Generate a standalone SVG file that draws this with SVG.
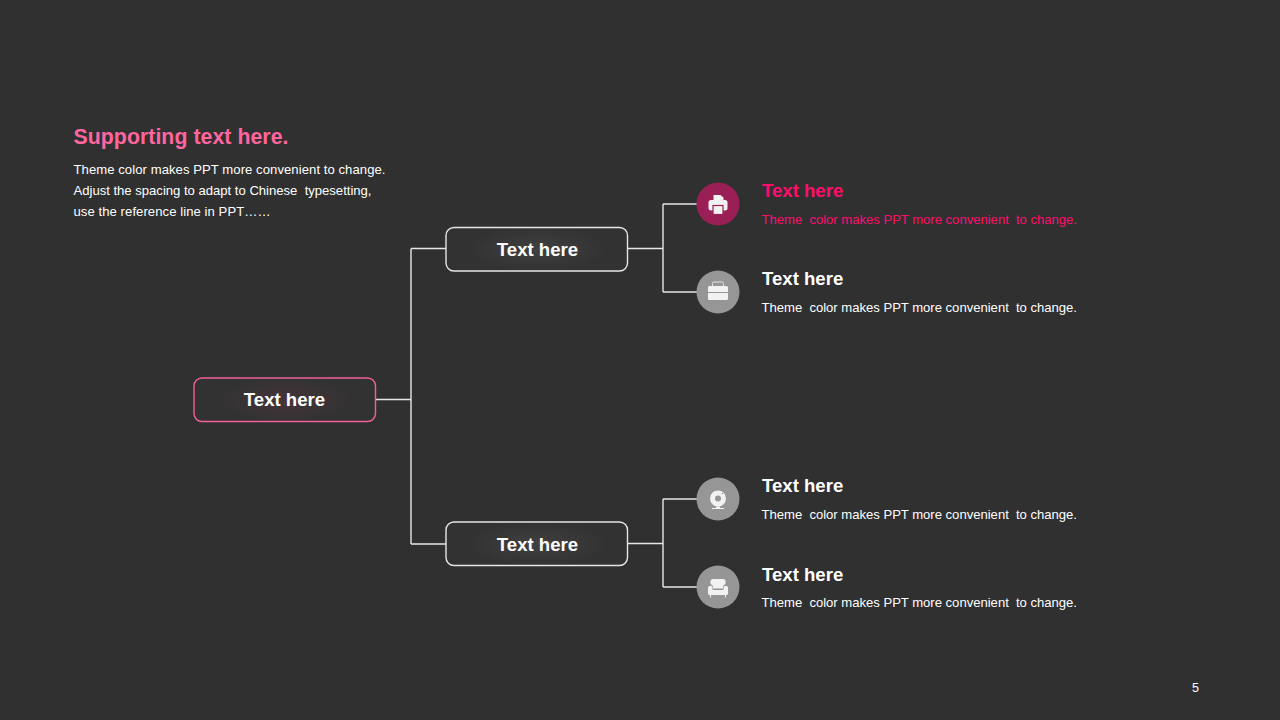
<svg xmlns="http://www.w3.org/2000/svg" width="1280" height="720" viewBox="0 0 1280 720">
<defs>
<radialGradient id="gw"><stop offset="0" stop-color="#ffffff" stop-opacity="0.07"/><stop offset="1" stop-color="#ffffff" stop-opacity="0"/></radialGradient>
<radialGradient id="gp"><stop offset="0" stop-color="#ff4d8f" stop-opacity="0.09"/><stop offset="1" stop-color="#ff4d8f" stop-opacity="0"/></radialGradient>
</defs>
<style>
text{font-family:"Liberation Sans",Arial,sans-serif}
.box{fill:#323232;stroke:#e6e6e6;stroke-width:1.4}
.lab{font-size:18.6px;font-weight:700;fill:#fff;text-anchor:middle}
.h{font-size:18.6px;font-weight:700;fill:#fff}
.d{font-size:13.1px;fill:#fff;white-space:pre}
.c{fill:none;stroke:#e6e6e6;stroke-width:1.4}
.i{fill:#f2f2f2}
.g{fill:#969696}
</style>
<rect width="1280" height="720" fill="#303030"/>
<g id="intro">
<text x="73.500" y="144" font-size="21.300" font-weight="700" fill="#ff659f" textLength="215">Supporting text here.</text>
<text class="d" x="73.500" y="174" textLength="312">Theme color makes PPT more convenient to change.</text>
<text class="d" x="73.500" y="195" textLength="298">Adjust the spacing to adapt to Chinese  typesetting,</text>
<text class="d" x="73.500" y="216" textLength="197">use the reference line in PPT……</text>
</g>
<g id="connectors">
<path class="c" d="M375.500 399.500H411M411 248.500V544M411 248.500H446M411 544H446"/>
<path class="c" d="M628 248.500H663M663 204V292M663 204H697M663 292H697"/>
<path class="c" d="M628 543.500H663M663 499V587M663 499H697M663 587H697"/>
</g>
<g id="root">
<rect class="box" style="stroke:#f0609a" x="194" y="378" width="181.500" height="43.500" rx="8"/>
<ellipse cx="285" cy="400" rx="72" ry="22" fill="url(#gp)"/>
<text class="lab" x="284.500" y="405.500">Text here</text>
</g>
<g id="branch-top">
<rect class="box" x="446" y="227.500" width="181.500" height="43.500" rx="8"/>
<ellipse cx="537" cy="249" rx="72" ry="22" fill="url(#gw)"/>
<text class="lab" x="537.500" y="256">Text here</text>
</g>
<g id="branch-bottom">
<rect class="box" x="446" y="522" width="181.500" height="43.500" rx="8"/>
<ellipse cx="537" cy="544" rx="72" ry="22" fill="url(#gw)"/>
<text class="lab" x="537.500" y="550.500">Text here</text>
</g>
<g id="item-1">
<circle cx="718" cy="204" r="21.500" fill="#9b1f57"/>
<path class="i" d="M713.500 195h7l3 2.500v3h-10z"/>
<rect class="i" x="708.500" y="200" width="19" height="10.500" rx="2.500"/>
<rect class="i" x="713" y="205.500" width="10" height="9" stroke="#9b1f57" stroke-width="1.200"/>
<text class="h" x="762" y="197" style="fill:#ff0d6c">Text here</text>
<text class="d" x="761.500" y="224" style="fill:#ff0d6c" textLength="315.500">Theme  color makes PPT more convenient  to change.</text>
</g>
<g id="item-2">
<circle cx="718" cy="292" r="21.500" class="g"/>
<path d="M712.500 286.500v-3a1.500 1.500 0 0 1 1.500-1.500h8a1.500 1.500 0 0 1 1.500 1.500v3" fill="none" stroke="#e4e4e4" stroke-width="1"/>
<path class="i" d="M709.500 286h17a1.500 1.500 0 0 1 1.500 1.500v4.500h-20v-4.500a1.500 1.500 0 0 1 1.500-1.500zM708 293h20v5.500a1.500 1.500 0 0 1-1.500 1.500h-17a1.500 1.500 0 0 1-1.500-1.500z"/>
<text class="h" x="762" y="285">Text here</text>
<text class="d" x="761.500" y="312" textLength="315.500">Theme  color makes PPT more convenient  to change.</text>
</g>
<g id="item-3">
<circle cx="718" cy="499" r="21.500" class="g"/>
<circle cx="718" cy="498.500" r="5.500" fill="none" stroke="#f2f2f2" stroke-width="5"/>
<circle cx="722.500" cy="493.500" r="0.700" fill="#969696"/>
<path class="i" d="M716 506.500h4v1.500h4v1h-12v-1h4z"/>
<text class="h" x="762" y="492">Text here</text>
<text class="d" x="761.500" y="519" textLength="315.500">Theme  color makes PPT more convenient  to change.</text>
</g>
<g id="item-4">
<circle cx="718" cy="587" r="21.500" class="g"/>
<path class="i" d="M713 579h10a2.500 2.500 0 0 1 2.500 2.500v2.500a3.500 3.500 0 0 0-2.500 3.500v1h-10v-1a3.500 3.500 0 0 0-2.500-3.500v-2.500a2.500 2.500 0 0 1 2.500-2.500z"/>
<path class="i" d="M708 587.500a2.300 2.300 0 0 1 4.500 0v2.500h11v-2.500a2.300 2.300 0 0 1 4.500 0v6a1.500 1.500 0 0 1-1.500 1.500h-17a1.500 1.500 0 0 1-1.500-1.500z"/>
<path d="M710.500 595v2.500M725.500 595v2.500" stroke="#f2f2f2" stroke-width="1"/>
<text class="h" x="762" y="580.500">Text here</text>
<text class="d" x="761.500" y="607" textLength="315.500">Theme  color makes PPT more convenient  to change.</text>
</g>
<text id="page" x="1192" y="692" font-size="12.500" fill="#fff">5</text>
</svg>
